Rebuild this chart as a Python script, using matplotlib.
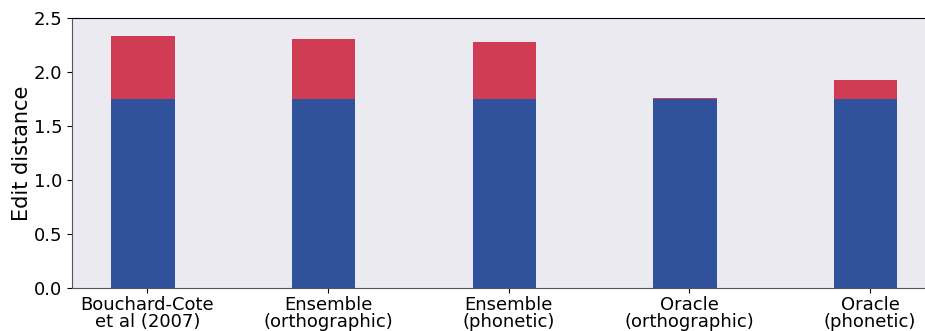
import matplotlib
matplotlib.use('Agg')
import matplotlib.pyplot as plt
import numpy as np

# data
labels = ['Bouchard-Cote\net al (2007)', 'Ensemble\n(orthographic)', 'Ensemble\n(phonetic)',
          'Oracle\n(orthographic)', 'Oracle\n(phonetic)']
base = [1.75, 1.75, 1.75, 1.75, 1.75]
total = [2.333, 2.306, 2.278, 1.762, 1.926]
extra = [t - b for t, b in zip(total, base)]

ind = np.arange(len(labels))
width = 0.35

fig = plt.figure(figsize=(9.25, 3.31), dpi=100)
ax = fig.add_axes([0.0778, 0.1299, 0.9347, 0.8157])
ax.set_facecolor('#ebeaf1')

ax.bar(ind, base, width, align='edge', color='#30519c')
ax.bar(ind, extra, width, bottom=base, align='edge', color='#d13c55')

ax.set_xlim(-0.2175, 4.5675)
ax.set_ylim(0, 2.5)
ax.set_xticks(ind + 0.2)
ax.set_xticklabels(labels, fontsize=13, linespacing=0.95)
ax.tick_params(axis='x', pad=2)
ax.tick_params(axis='y', labelsize=13)
ax.set_ylabel('Edit distance', fontsize=15, labelpad=1)

for s in ['left', 'bottom']:
    ax.spines[s].set_color('#555555')
ax.spines['top'].set_color('black')

fig.savefig('out.png', dpi=100)
